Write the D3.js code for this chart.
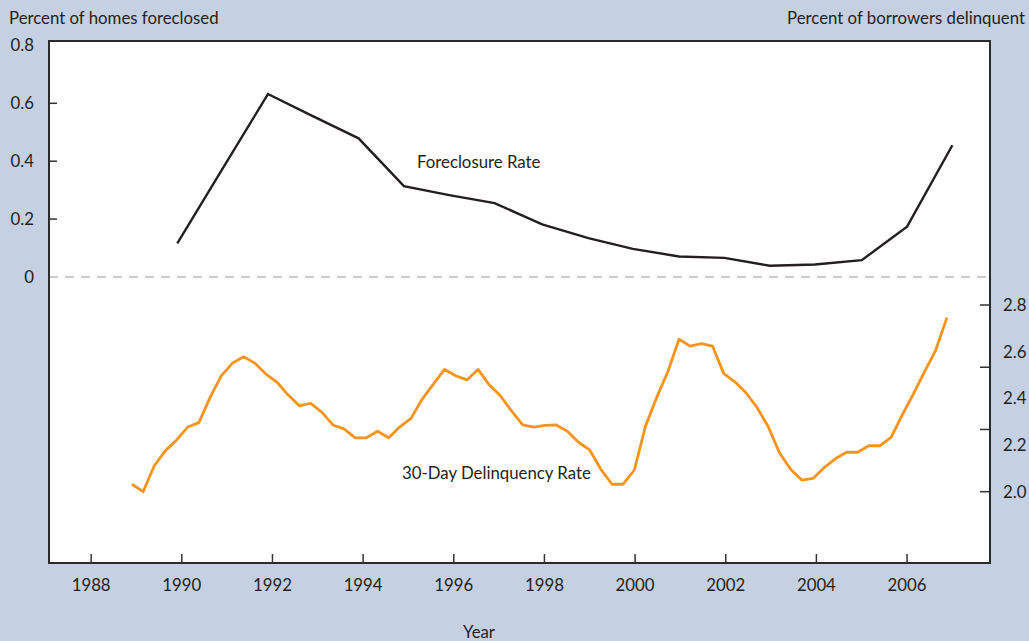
<!DOCTYPE html>
<html>
<head>
<meta charset="utf-8">
<script src="https://cdn.jsdelivr.net/npm/d3@7"></script>
<style>
  html, body { margin: 0; padding: 0; background: #c5d0e2; }
  svg { display: block; }
  text { font-family: Lato, "Open Sans", sans-serif; fill: #231f20; }
</style>
</head>
<body>
<div id="chart"></div>
<script>
// foreclosure rate, one point per year (year-end)
const foreYears = [1989.9, 1990.9, 1991.9, 1992.9, 1993.9, 1994.9, 1995.9, 1996.9, 1997.95,
  1998.97, 1999.95, 2000.97, 2001.97, 2002.97, 2003.97, 2005.0, 2006.0, 2007.0]
const foreRate = [0.116, 0.374, 0.632, 0.555, 0.479, 0.314, 0.283, 0.255, 0.182,
  0.134, 0.097, 0.071, 0.066, 0.039, 0.043, 0.058, 0.174, 0.455]

// 30-day delinquency, quarterly from late 1988 to late 2006
const delStart = 1988.9
const delEnd = 2006.88
const delRate = [
  2.032, 2.000, 2.111, 2.176, 2.222, 2.277, 2.296, 2.404, 2.496, 2.551,
  2.578, 2.551, 2.504, 2.469, 2.414, 2.368, 2.379, 2.341, 2.286, 2.269,
  2.231, 2.231, 2.259, 2.231, 2.278, 2.314, 2.397, 2.461, 2.524, 2.497,
  2.479, 2.524, 2.458, 2.411, 2.346, 2.286, 2.277, 2.284, 2.286, 2.259,
  2.212, 2.179, 2.096, 2.032, 2.032, 2.093, 2.281, 2.404, 2.514, 2.653,
  2.624, 2.634, 2.624, 2.507, 2.471, 2.424, 2.360, 2.278, 2.167, 2.096,
  2.050, 2.057, 2.103, 2.141, 2.169, 2.169, 2.197, 2.197, 2.233, 2.329,
  2.419, 2.514, 2.607, 2.746
]

const xTicks = [1988, 1990, 1992, 1994, 1996, 1998, 2000, 2002, 2004, 2006]
const leftLabels = [0, 0.2, 0.4, 0.6, 0.8]
const leftTicks = [0.2, 0.4, 0.6]
const rightLabels = [2.0, 2.2, 2.4, 2.6, 2.8]

const W = 1029, H = 641
const plot = {left: 49, right: 990, top: 41, bottom: 563}
const fs = '16.8px'

const svg = d3.select('#chart').append('svg')
  .attr('width', W)
  .attr('height', H)

const x = d3.scaleLinear()
  .domain([1987.07, 2007.83])
  .range([plot.left, plot.right])

const yL = d3.scaleLinear()
  .domain([0, 0.8])
  .range([277, 45.4])

const yR = d3.scaleLinear()
  .domain([2.0, 2.8])
  .range([491.7, 305])

// plot panel
svg.append('rect')
  .attr('x', plot.left)
  .attr('y', plot.top)
  .attr('width', plot.right - plot.left)
  .attr('height', plot.bottom - plot.top)
  .style('fill', '#fff')

// zero line
svg.append('line')
  .attr('x1', plot.left)
  .attr('x2', plot.right)
  .attr('y1', yL(0))
  .attr('y2', yL(0))
  .style('stroke', '#9a9a9a')
  .style('stroke-width', 1.2)
  .style('stroke-dasharray', '9,7')

// bottom ticks (inside)
svg.selectAll('.xtick')
  .data(xTicks)
  .enter().append('line')
  .attr('class', 'xtick')
  .attr('x1', d => x(d)).attr('x2', d => x(d))
  .attr('y1', plot.bottom).attr('y2', plot.bottom - 9)
  .style('stroke', '#333').style('stroke-width', 1.5)

svg.selectAll('.xlabel')
  .data(xTicks)
  .enter().append('text')
  .attr('class', 'xlabel')
  .attr('x', d => x(d))
  .attr('y', 591)
  .attr('text-anchor', 'middle')
  .style('font-size', fs)
  .text(d => d)

// left axis
svg.selectAll('.ltick')
  .data(leftTicks)
  .enter().append('line')
  .attr('class', 'ltick')
  .attr('x1', plot.left).attr('x2', plot.left + 8)
  .attr('y1', d => yL(d)).attr('y2', d => yL(d))
  .style('stroke', '#333').style('stroke-width', 1.5)

svg.selectAll('.llabel')
  .data(leftLabels)
  .enter().append('text')
  .attr('class', 'llabel')
  .attr('x', 34)
  .attr('y', d => yL(d))
  .attr('dy', '0.35em')
  .attr('text-anchor', 'end')
  .style('font-size', fs)
  .text(d => d === 0 ? '0' : d3.format('.1f')(d))

// right axis: 4 evenly spaced ticks, labels on their own spacing (as in the original)
const rightTicks = d3.range(4).map(i => 2.0 + i * 0.8 / 3)
svg.selectAll('.rtick')
  .data(rightTicks)
  .enter().append('line')
  .attr('class', 'rtick')
  .attr('x1', plot.right - 10).attr('x2', plot.right)
  .attr('y1', d => yR(d)).attr('y2', d => yR(d))
  .style('stroke', '#333').style('stroke-width', 1.5)

svg.selectAll('.rlabel')
  .data(rightLabels)
  .enter().append('text')
  .attr('class', 'rlabel')
  .attr('x', 1003)
  .attr('y', d => yR(d))
  .attr('dy', '0.35em')
  .style('font-size', fs)
  .text(d => d3.format('.1f')(d))

// frame
svg.append('rect')
  .attr('x', plot.left)
  .attr('y', plot.top)
  .attr('width', plot.right - plot.left)
  .attr('height', plot.bottom - plot.top)
  .style('fill', 'none')
  .style('stroke', '#2b2b2b')
  .style('stroke-width', 2)

// lines
const foreLine = d3.line()
  .x((d, i) => x(foreYears[i]))
  .y(d => yL(d))

svg.append('path')
  .datum(foreRate)
  .attr('d', foreLine)
  .style('fill', 'none')
  .style('stroke', '#231f20')
  .style('stroke-width', 2.4)

const delStep = (delEnd - delStart) / (delRate.length - 1)
const delLine = d3.line()
  .x((d, i) => x(delStart + i * delStep))
  .y(d => yR(d))

svg.append('path')
  .datum(delRate)
  .attr('d', delLine)
  .style('fill', 'none')
  .style('stroke', '#f7941d')
  .style('stroke-width', 2.8)
  .style('stroke-linejoin', 'round')

// labels
svg.append('text')
  .attr('x', 9).attr('y', 24)
  .style('font-size', fs)
  .text('Percent of homes foreclosed')

svg.append('text')
  .attr('x', 1025).attr('y', 24)
  .attr('text-anchor', 'end')
  .style('font-size', fs)
  .text('Percent of borrowers delinquent')

svg.append('text')
  .attr('x', 417).attr('y', 168)
  .style('font-size', fs)
  .text('Foreclosure Rate')

svg.append('text')
  .attr('x', 402).attr('y', 479)
  .style('font-size', fs)
  .text('30-Day Delinquency Rate')

svg.append('text')
  .attr('x', 479).attr('y', 638)
  .attr('text-anchor', 'middle')
  .style('font-size', fs)
  .text('Year')
</script>
</body>
</html>
